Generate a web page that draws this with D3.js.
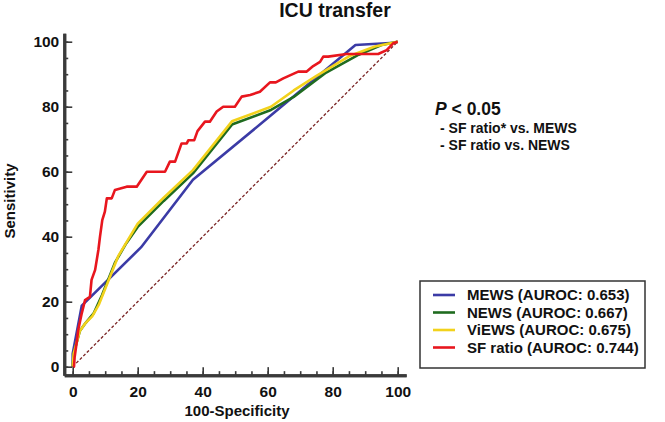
<!DOCTYPE html>
<html>
<head>
<meta charset="utf-8">
<script src="https://cdn.jsdelivr.net/npm/d3@7/dist/d3.min.js"></script>
<style>
  html, body { margin: 0; padding: 0; background: #fff; }
  svg { display: block; font-family: "Liberation Sans", Arial, sans-serif; }
</style>
</head>
<body>
<svg id="chart" width="665" height="422"></svg>
<script>
// ---- data ----
const seriesNames = ["MEWS", "NEWS", "ViEWS", "SF ratio"];
const aurocLabels = ["0.653", "0.667", "0.675", "0.744"];
const seriesColors = ["#3b3ba6", "#1f6b1f", "#f2d21c", "#e8161e"];

const mewsX = [0, 0, 2.8, 21, 37, 60, 87, 99, 100];
const mewsY = [0, 4, 18.8, 36.7, 57.5, 76.5, 99, 99.7, 100];

const newsX = [0, 0.3, 2.2, 4, 6.5, 9, 11, 13, 16.5, 20, 28, 37, 49, 61, 68, 78, 88, 95, 100];
const newsY = [0, 4, 11, 13.5, 16.5, 22, 27, 32, 38, 43, 51, 59.5, 74.5, 79, 83, 90.5, 96, 99, 100];

const viewsX = [0, 0.3, 2.2, 4, 6, 8, 10, 12, 14, 17, 20, 28, 37, 49, 61, 68, 75, 85, 93, 100];
const viewsY = [0, 4, 11, 13.5, 15.5, 19, 24, 29, 34, 39, 44, 52, 60.5, 75.5, 80, 85, 89.5, 95.5, 98.5, 100];

const sfX = [0, 0.4, 0.6, 1.2, 1.7, 2.8, 3.8, 5.3, 5.8, 6.9, 7.9, 8.4, 9.1, 9.9, 10.5, 12, 13, 16.6, 19.7, 22.8, 28.4, 29.9, 31.5, 33.5, 35.1, 35.6, 37.4, 38.4, 40.7, 42.2, 44.3, 46.3, 49.9, 52, 54.6, 57.6, 60.7, 62.5, 64.8, 69.4, 72, 74, 76.1, 77.1, 78.6, 84.3, 94, 96.6, 98.6, 100];
const sfY = [0, 0, 3, 7.3, 11.3, 16.5, 20.5, 21.5, 26.7, 29.8, 35.9, 40, 45.1, 47.7, 51.8, 51.8, 54.4, 55.4, 55.4, 60, 60, 63.1, 63.1, 68.7, 68.7, 69.7, 69.7, 72.5, 75.4, 75.4, 78.5, 80, 80, 83.1, 83.6, 84.6, 87.5, 87.5, 88.7, 90.8, 90.8, 92.5, 93.8, 95.4, 95.4, 96.2, 96.2, 97.4, 99.5, 100];

const refX = [0, 100];
const refY = [0, 100];

const majorTicks = [0, 20, 40, 60, 80, 100];
const minorTicks = d3.range(0, 101, 5);

const titleText = "ICU transfer";
const xLabel = "100-Specificity";
const yLabel = "Sensitivity";
const noteTitle = "< 0.05";
const noteLines = ["- SF ratio* vs. MEWS", "- SF ratio vs. NEWS"];

// ---- layout ----
const svg = d3.select("#chart");
const x = d3.scaleLinear().domain([0, 100]).range([72.7, 397.7]);
const y = d3.scaleLinear().domain([0, 100]).range([366.7, 41.7]);
const axisLo = -2.6, axisHi = 102.6;
const xA = d3.scaleLinear().domain([axisLo, axisHi]).range([x(axisLo), x(axisHi)]);
const yA = d3.scaleLinear().domain([axisLo, axisHi]).range([y(axisLo), y(axisHi)]);
const xAxisY = yA(axisLo);
const yAxisX = xA(axisLo);

// reference diagonal
const line = d3.line().x(d => x(d[0])).y(d => y(d[1]));
svg.append("path")
  .datum(d3.zip(refX, refY))
  .attr("d", line)
  .attr("fill", "none")
  .attr("stroke", "#7a2424")
  .attr("stroke-width", 1.3)
  .attr("stroke-dasharray", "3,2");

// curves
const curves = [
  d3.zip(mewsX, mewsY),
  d3.zip(newsX, newsY),
  d3.zip(viewsX, viewsY),
  d3.zip(sfX, sfY)
];
curves.forEach((pts, i) => {
  svg.append("path")
    .datum(pts)
    .attr("d", line)
    .attr("fill", "none")
    .attr("stroke", seriesColors[i])
    .attr("stroke-width", 2.6)
    .attr("stroke-linejoin", "round");
});

// axes
function styleAxis(g) {
  g.selectAll("path.domain").attr("stroke", "#3a3a3a").attr("stroke-width", 3);
  g.selectAll(".tick line").attr("stroke", "#3a3a3a").attr("stroke-width", 1.6);
  g.selectAll(".tick text").attr("fill", "#111").attr("font-size", 15.5).attr("font-weight", "bold")
    .attr("font-family", "'Liberation Sans', Arial, sans-serif");
}
// minor ticks
svg.append("g").attr("transform", `translate(0,${xAxisY})`)
  .call(d3.axisBottom(xA).tickValues(minorTicks).tickSize(-4).tickSizeOuter(0).tickFormat(""))
  .call(styleAxis);
svg.append("g").attr("transform", `translate(${yAxisX},0)`)
  .call(d3.axisLeft(yA).tickValues(minorTicks).tickSize(-4).tickSizeOuter(0).tickFormat(""))
  .call(styleAxis);
// major ticks + labels
svg.append("g").attr("transform", `translate(0,${xAxisY})`)
  .call(d3.axisBottom(xA).tickValues(majorTicks).tickSize(-8).tickSizeOuter(0).tickPadding(11))
  .call(styleAxis);
svg.append("g").attr("transform", `translate(${yAxisX},0)`)
  .call(d3.axisLeft(yA).tickValues(majorTicks).tickSize(-8).tickSizeOuter(0).tickPadding(5))
  .call(styleAxis);

// title & labels
svg.append("text").attr("x", 335).attr("y", 17).attr("text-anchor", "middle")
  .attr("font-size", 19.5).attr("font-weight", "bold").attr("fill", "#111").text(titleText);
svg.append("text").attr("x", 237).attr("y", 416).attr("text-anchor", "middle")
  .attr("font-size", 15).attr("font-weight", "bold").attr("fill", "#111").text(xLabel);
svg.append("text").attr("transform", "translate(14.5,201) rotate(-90)").attr("text-anchor", "middle")
  .attr("font-size", 15).attr("font-weight", "bold").attr("fill", "#111").text(yLabel);

// annotation
const note = svg.append("text").attr("x", 435).attr("y", 115)
  .attr("font-size", 17.5).attr("font-weight", "bold").attr("fill", "#111");
note.append("tspan").attr("font-style", "italic").text("P");
note.append("tspan").text(" " + noteTitle);
noteLines.forEach((t, i) => {
  svg.append("text").attr("x", 440).attr("y", 133 + i * 17)
    .attr("font-size", 14).attr("font-weight", "bold").attr("fill", "#111").text(t);
});

// legend
const lg = svg.append("g");
lg.append("rect").attr("x", 420).attr("y", 281).attr("width", 225).attr("height", 87)
  .attr("fill", "#fff").attr("stroke", "#333").attr("stroke-width", 1.5);
seriesNames.forEach((n, i) => {
  const cy = 295 + i * 17.5;
  lg.append("line").attr("x1", 433).attr("x2", 455).attr("y1", cy).attr("y2", cy)
    .attr("stroke", seriesColors[i]).attr("stroke-width", 2.6);
  lg.append("text").attr("x", 467).attr("y", cy + 5.3)
    .attr("font-size", 15).attr("font-weight", "bold").attr("fill", "#111")
    .text(`${n} (AUROC: ${aurocLabels[i]})`);
});
</script>
</body>
</html>
